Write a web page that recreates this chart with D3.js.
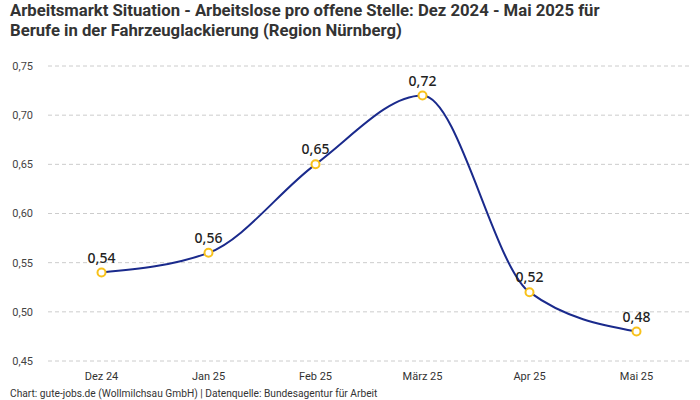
<!DOCTYPE html>
<html>
<head>
<meta charset="utf-8">
<script src="https://cdn.jsdelivr.net/npm/d3@7"></script>
<style>
  body { margin:0; background:#fff; }
  svg { display:block; }
</style>
</head>
<body>
<div id="chart"></div>
<script>
var months = ['Dez 24', 'Jan 25', 'Feb 25', 'März 25', 'Apr 25', 'Mai 25']
var values = [0.54, 0.56, 0.65, 0.72, 0.52, 0.48]
var yTicks = [0.45, 0.50, 0.55, 0.60, 0.65, 0.70, 0.75]
var titleLines = ['Arbeitsmarkt Situation - Arbeitslose pro offene Stelle: Dez 2024 - Mai 2025 für',
                  'Berufe in der Fahrzeuglackierung (Region Nürnberg)']
var footer = 'Chart: gute-jobs.de (Wollmilchsau GmbH) | Datenquelle: Bundesagentur für Arbeit'

var w = 700, h = 400
var m = { top:66, right:10, bottom:39, left:48 }
var fmt = d => d3.format('.2f')(d).replace('.', ',')

var svg = d3.select('#chart').append('svg')
    .attr('width', w)
    .attr('height', h)

// title
svg.selectAll('.title')
    .data(titleLines)
  .enter().append('text')
    .attr('class', 'title')
    .attr('x', 10)
    .attr('y', (d, i) => 16 + i * 20)
    .style('font-family', '"Roboto", sans-serif')
    .style('font-weight', 'bold')
    .style('font-size', '16.7px')
    .style('fill', '#333')
    .text(d => d)

var x = d3.scalePoint()
    .domain(months)
    .range([m.left, w - m.right])
    .padding(0.5)

var y = d3.scaleLinear()
    .domain([0.45, 0.75])
    .range([h - m.bottom, m.top])

// grid
svg.selectAll('.grid')
    .data(yTicks)
  .enter().append('line')
    .attr('class', 'grid')
    .attr('x1', m.left)
    .attr('x2', w - m.right)
    .attr('y1', d => y(d))
    .attr('y2', d => y(d))
    .style('stroke', '#ccc')
    .style('stroke-dasharray', '4,3')

// y labels
svg.selectAll('.ylab')
    .data(yTicks)
  .enter().append('text')
    .attr('class', 'ylab')
    .attr('x', 33)
    .attr('y', d => y(d))
    .attr('dy', '.35em')
    .style('text-anchor', 'end')
    .style('font-family', '"Roboto", sans-serif')
    .style('font-size', '11px')
    .style('fill', '#444')
    .text(fmt)

// x labels
svg.selectAll('.xlab')
    .data(months)
  .enter().append('text')
    .attr('class', 'xlab')
    .attr('x', d => x(d))
    .attr('y', 380)
    .style('text-anchor', 'middle')
    .style('font-family', '"Roboto", sans-serif')
    .style('font-size', '11px')
    .style('fill', '#333')
    .text(d => d)

var pts = months.map((mo, i) => ({ m:mo, v:values[i] }))

var line = d3.line()
    .x(d => x(d.m))
    .y(d => y(d.v))
    .curve(d3.curveMonotoneX)

svg.append('path')
    .datum(pts)
    .attr('d', line)
    .style('fill', 'none')
    .style('stroke', '#1a2a8c')
    .style('stroke-width', 2)

svg.selectAll('.pt')
    .data(pts)
  .enter().append('circle')
    .attr('class', 'pt')
    .attr('cx', d => x(d.m))
    .attr('cy', d => y(d.v))
    .attr('r', 4)
    .style('fill', '#fff')
    .style('stroke', '#f8c21c')
    .style('stroke-width', 2)

svg.selectAll('.vlab')
    .data(pts)
  .enter().append('text')
    .attr('class', 'vlab')
    .attr('x', d => x(d.m))
    .attr('y', d => y(d.v) - 10)
    .style('text-anchor', 'middle')
    .style('font-family', '"Noto Sans", sans-serif')
    .style('font-weight', '500')
    .style('font-size', '14px')
    .style('fill', '#222')
    .text(d => fmt(d.v))

svg.append('text')
    .attr('x', 10)
    .attr('y', 397)
    .style('font-family', '"Roboto", sans-serif')
    .style('font-size', '10.2px')
    .style('fill', '#333')
    .text(footer)
</script>
</body>
</html>
